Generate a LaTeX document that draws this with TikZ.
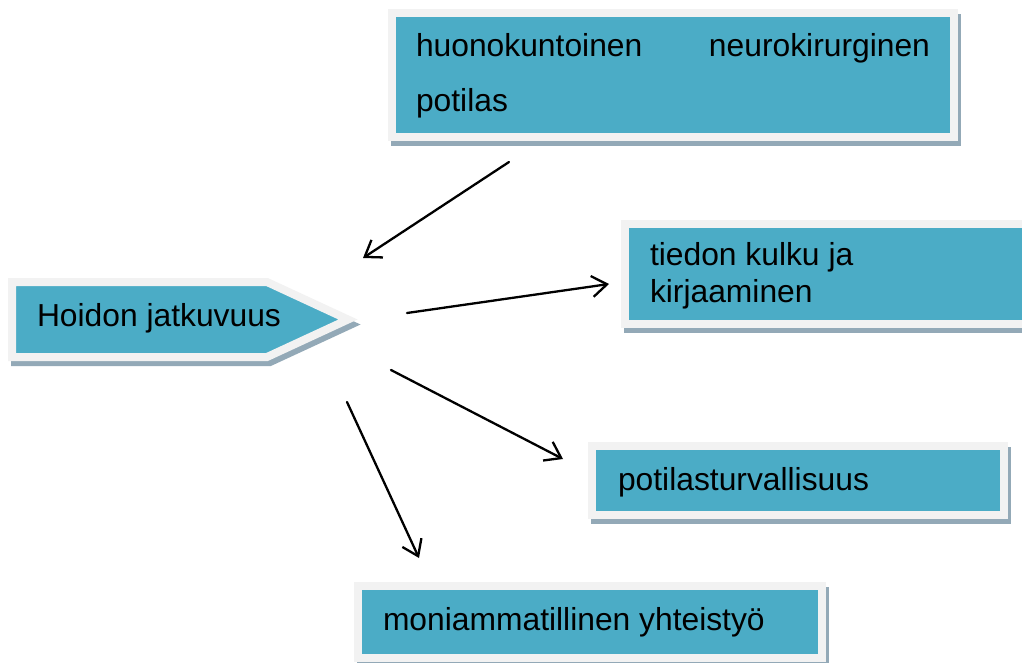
\documentclass[tikz,border=0pt]{standalone}
\usepackage{fontspec}
\setmainfont{Liberation Sans}
\usetikzlibrary{arrows.meta,shadows}
\definecolor{tealbox}{HTML}{4BACC6}
\definecolor{framec}{HTML}{F2F2F2}
\definecolor{shadowc}{HTML}{93A9B7}
\tikzset{
  boxshadow/.style={general shadow={fill=shadowc, draw=shadowc, line width=8pt, shadow xshift=3pt, shadow yshift=-5pt}},
  tbox/.style={rectangle, inner sep=0pt, outer sep=0pt, fill=tealbox, draw=framec, line width=8pt, boxshadow},
  txt/.style={inner sep=0pt, outer sep=0pt, anchor=base west, font=\fontsize{31.8pt}{36.5pt}\selectfont, text=black},
  conn/.style={line width=2.3pt, -{Straight Barb[length=15pt,width=21pt]}, line cap=round}
}
\begin{document}
\begin{tikzpicture}[x=1pt,y=-1pt]
\useasboundingbox (0,0) rectangle (1022,662);
\clip (0,0) rectangle (1022,662);
% boxes
\node[tbox, minimum width=562pt, minimum height=124pt] (top) at (673,75) {};
\node[tbox, minimum width=415pt, minimum height=100pt] (tiedon) at (832.5,274) {};
\node[tbox, minimum width=412pt, minimum height=69pt] (potilas) at (798,480.5) {};
\node[tbox, minimum width=464pt, minimum height=72pt] (moni) at (590,622) {};
\path[fill=tealbox, draw=framec, line width=8pt, boxshadow]
  (12,282) -- (267,282) -- (348,319.5) -- (267,357) -- (12,357) -- cycle;
\coordinate (hoidon) at (180,319.5);
% texts
\node[txt, text width=514pt] (topL1) at (416,56) {huonokuntoinen\hfill neurokirurginen};
\node[txt] (topL2) at (416,111) {potilas};
\node[txt] (hoidonT) at (37,326) {Hoidon jatkuvuus};
\node[txt, align=left] (tiedonT) at (650,302) {tiedon kulku ja\\kirjaaminen};
\node[txt] (potilasT) at (618,490) {potilasturvallisuus};
\node[txt] (moniT) at (383,630) {moniammatillinen yhteistyö};
% connectors
\coordinate (a1s) at (509,162); \coordinate (a1e) at (363,258);
\coordinate (a2s) at (407,313); \coordinate (a2e) at (609,284);
\coordinate (a3s) at (391,370); \coordinate (a3e) at (563,459);
\coordinate (a4s) at (347,402); \coordinate (a4e) at (419,558);
\draw[conn] (a1s) -- (a1e);
\draw[conn] (a2s) -- (a2e);
\draw[conn] (a3s) -- (a3e);
\draw[conn] (a4s) -- (a4e);
\end{tikzpicture}
\end{document}
